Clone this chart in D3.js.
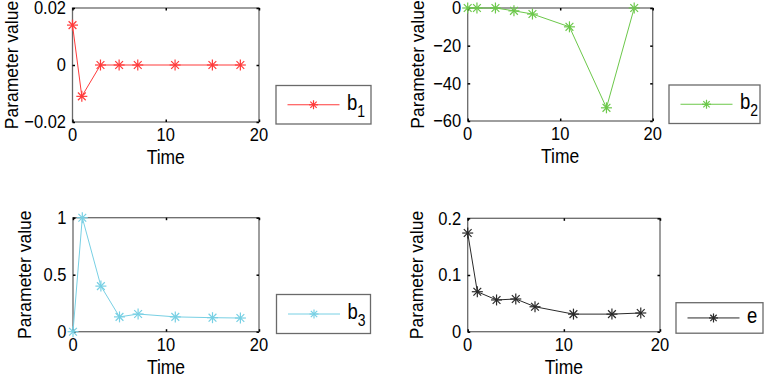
<!DOCTYPE html>
<html>
<head>
<meta charset="utf-8">
<script src="https://cdn.jsdelivr.net/npm/d3@7"></script>
<style>
  body { margin: 0; background: #fff; }
  svg { display: block; font-family: "Liberation Sans", Arial, sans-serif; }
</style>
</head>
<body>
<svg id="chart" width="766" height="381"></svg>
<script>
// data
const times = [0, 1, 3, 5, 7, 11, 15, 18];
const b1 = [0.014, -0.011, 0, 0, 0, 0, 0, 0];
const b2 = [0, 0, 0, -1.5, -3.2, -10, -53, 0];
const b3 = [0, 1.0, 0.4, 0.13, 0.155, 0.13, 0.123, 0.12];
const eVals = [0.174, 0.0705, 0.056, 0.0577, 0.044, 0.031, 0.031, 0.033];

const xTicks = [0, 10, 20];
const yTicks1 = [-0.02, 0, 0.02];
const yTicks2 = [-60, -40, -20, 0];
const yTicks3 = [0, 0.5, 1];
const yTicks4 = [0, 0.1, 0.2];

const svg = d3.select('#chart');

// panel layout (pixel boxes)
const panels = [
  { vals: b1, ticks: yTicks1, fmt: d => d === 0 ? '0' : d3.format('.2f')(d), color: '#ff3b3b',
    x0: 72.5, x1: 259, y0: 8, y1: 122, yLab: 60.5,
    leg: { x: 276, y: 85.5, w: 95, h: 38.5, name: 'b', sub: '1' } },
  { vals: b2, ticks: yTicks2, fmt: d3.format('d'), color: '#6cc84a',
    x0: 467.7, x1: 652.7, y0: 8, y1: 121, yLab: 50,
    leg: { x: 669, y: 85, w: 91, h: 38.5, name: 'b', sub: '2' } },
  { vals: b3, ticks: yTicks3, fmt: d => String(d), color: '#78d0e4',
    x0: 73, x1: 259, y0: 217.7, y1: 331.7, yLab: 48,
    leg: { x: 276.5, y: 294.5, w: 94, h: 39, name: 'b', sub: '3' } },
  { vals: eVals, ticks: yTicks4, fmt: d => String(d), color: '#2a2a2a',
    x0: 467.7, x1: 660, y0: 218.3, y1: 331.7, yLab: 50.7,
    leg: { x: 676, y: 302.7, w: 87, h: 30.5, name: 'e', sub: null } }
];

function asterisk(g, cx, cy, color, r) {
  [0, 45, 90, 135].forEach(a => {
    const rad = a * Math.PI / 180;
    g.append('line')
      .attr('x1', cx - r * Math.cos(rad)).attr('y1', cy - r * Math.sin(rad))
      .attr('x2', cx + r * Math.cos(rad)).attr('y2', cy + r * Math.sin(rad))
      .attr('stroke', color).attr('stroke-width', 1.2);
  });
  g.append('circle').attr('cx', cx).attr('cy', cy).attr('r', 1.2).attr('fill', color);
}

// text in the original is a bit taller than wide
function stretched(g, x, y, size, str, anchor) {
  return g.append('text')
    .attr('transform', `translate(${x},${y}) scale(1,1.15)`)
    .attr('text-anchor', anchor || 'middle').attr('dominant-baseline', 'central')
    .attr('font-size', size).attr('fill', '#000').text(str);
}

panels.forEach(p => {
  const x = d3.scaleLinear().domain([0, 20]).range([p.x0, p.x1]);
  const y = d3.scaleLinear().domain(d3.extent(p.ticks)).range([p.y1, p.y0]);
  const g = svg.append('g');

  g.append('rect')
    .attr('x', p.x0).attr('y', p.y0)
    .attr('width', p.x1 - p.x0).attr('height', p.y1 - p.y0)
    .attr('fill', 'none').attr('stroke', '#6a6a6a').attr('stroke-width', 1.3);

  const ax = (axis, tx, ty) => {
    const a = g.append('g').attr('transform', `translate(${tx},${ty})`).call(axis);
    a.select('.domain').remove();
    a.selectAll('.tick line').attr('stroke', '#000').attr('stroke-width', 1.5);
    a.selectAll('text').remove();
    return a;
  };

  ax(d3.axisBottom(x).tickValues(xTicks).tickSizeInner(-2.5).tickSizeOuter(0), 0, p.y1);
  ax(d3.axisTop(x).tickValues(xTicks).tickSizeInner(-2.5).tickSizeOuter(0), 0, p.y0);
  ax(d3.axisLeft(y).tickValues(p.ticks).tickSizeInner(-2.5).tickSizeOuter(0), p.x0, 0);
  ax(d3.axisRight(y).tickValues(p.ticks).tickSizeInner(-2.5).tickSizeOuter(0), p.x1, 0);

  // tick labels placed with the scales
  xTicks.forEach(t => stretched(g, x(t), p.y1 + 12.5, 16.5, d3.format('d')(t)));
  p.ticks.forEach(t => stretched(g, p.x0 - 6.5, y(t), 16.5, p.fmt(t), 'end'));

  stretched(g, (p.x0 + p.x1) / 2, p.y1 + 35, 17.5, 'Time');
  g.append('text')
    .attr('transform', `translate(${p.x0 - p.yLab},${(p.y0 + p.y1) / 2}) rotate(-90) scale(1.03,1.1)`)
    .attr('text-anchor', 'middle').attr('dominant-baseline', 'central')
    .attr('font-size', 17).text('Parameter value');

  const line = d3.line().x((d, i) => x(times[i])).y(d => y(d));
  g.append('path').datum(p.vals)
    .attr('d', line).attr('fill', 'none')
    .attr('stroke', p.color).attr('stroke-width', 1);
  p.vals.forEach((v, i) => asterisk(g, x(times[i]), y(v), p.color, 5.5));

  // legend
  const L = p.leg;
  const lg = svg.append('g');
  lg.append('rect').attr('x', L.x).attr('y', L.y).attr('width', L.w).attr('height', L.h)
    .attr('fill', '#fff').attr('stroke', '#6a6a6a').attr('stroke-width', 1.3);
  const cy = L.y + L.h / 2;
  lg.append('line').attr('x1', L.x + 11.5).attr('x2', L.x + 63.5)
    .attr('y1', cy).attr('y2', cy).attr('stroke', p.color).attr('stroke-width', 1);
  asterisk(lg, L.x + 37.5, cy, p.color, 4.5);
  const t = lg.append('text')
    .attr('transform', `translate(${L.x + 71},${cy + 5}) scale(1,1.15)`)
    .attr('font-size', 18.5).attr('fill', '#000').text(L.name);
  if (L.sub) {
    t.append('tspan').attr('font-size', 14).attr('dy', 6).text(L.sub);
  }
});
</script>
</body>
</html>
